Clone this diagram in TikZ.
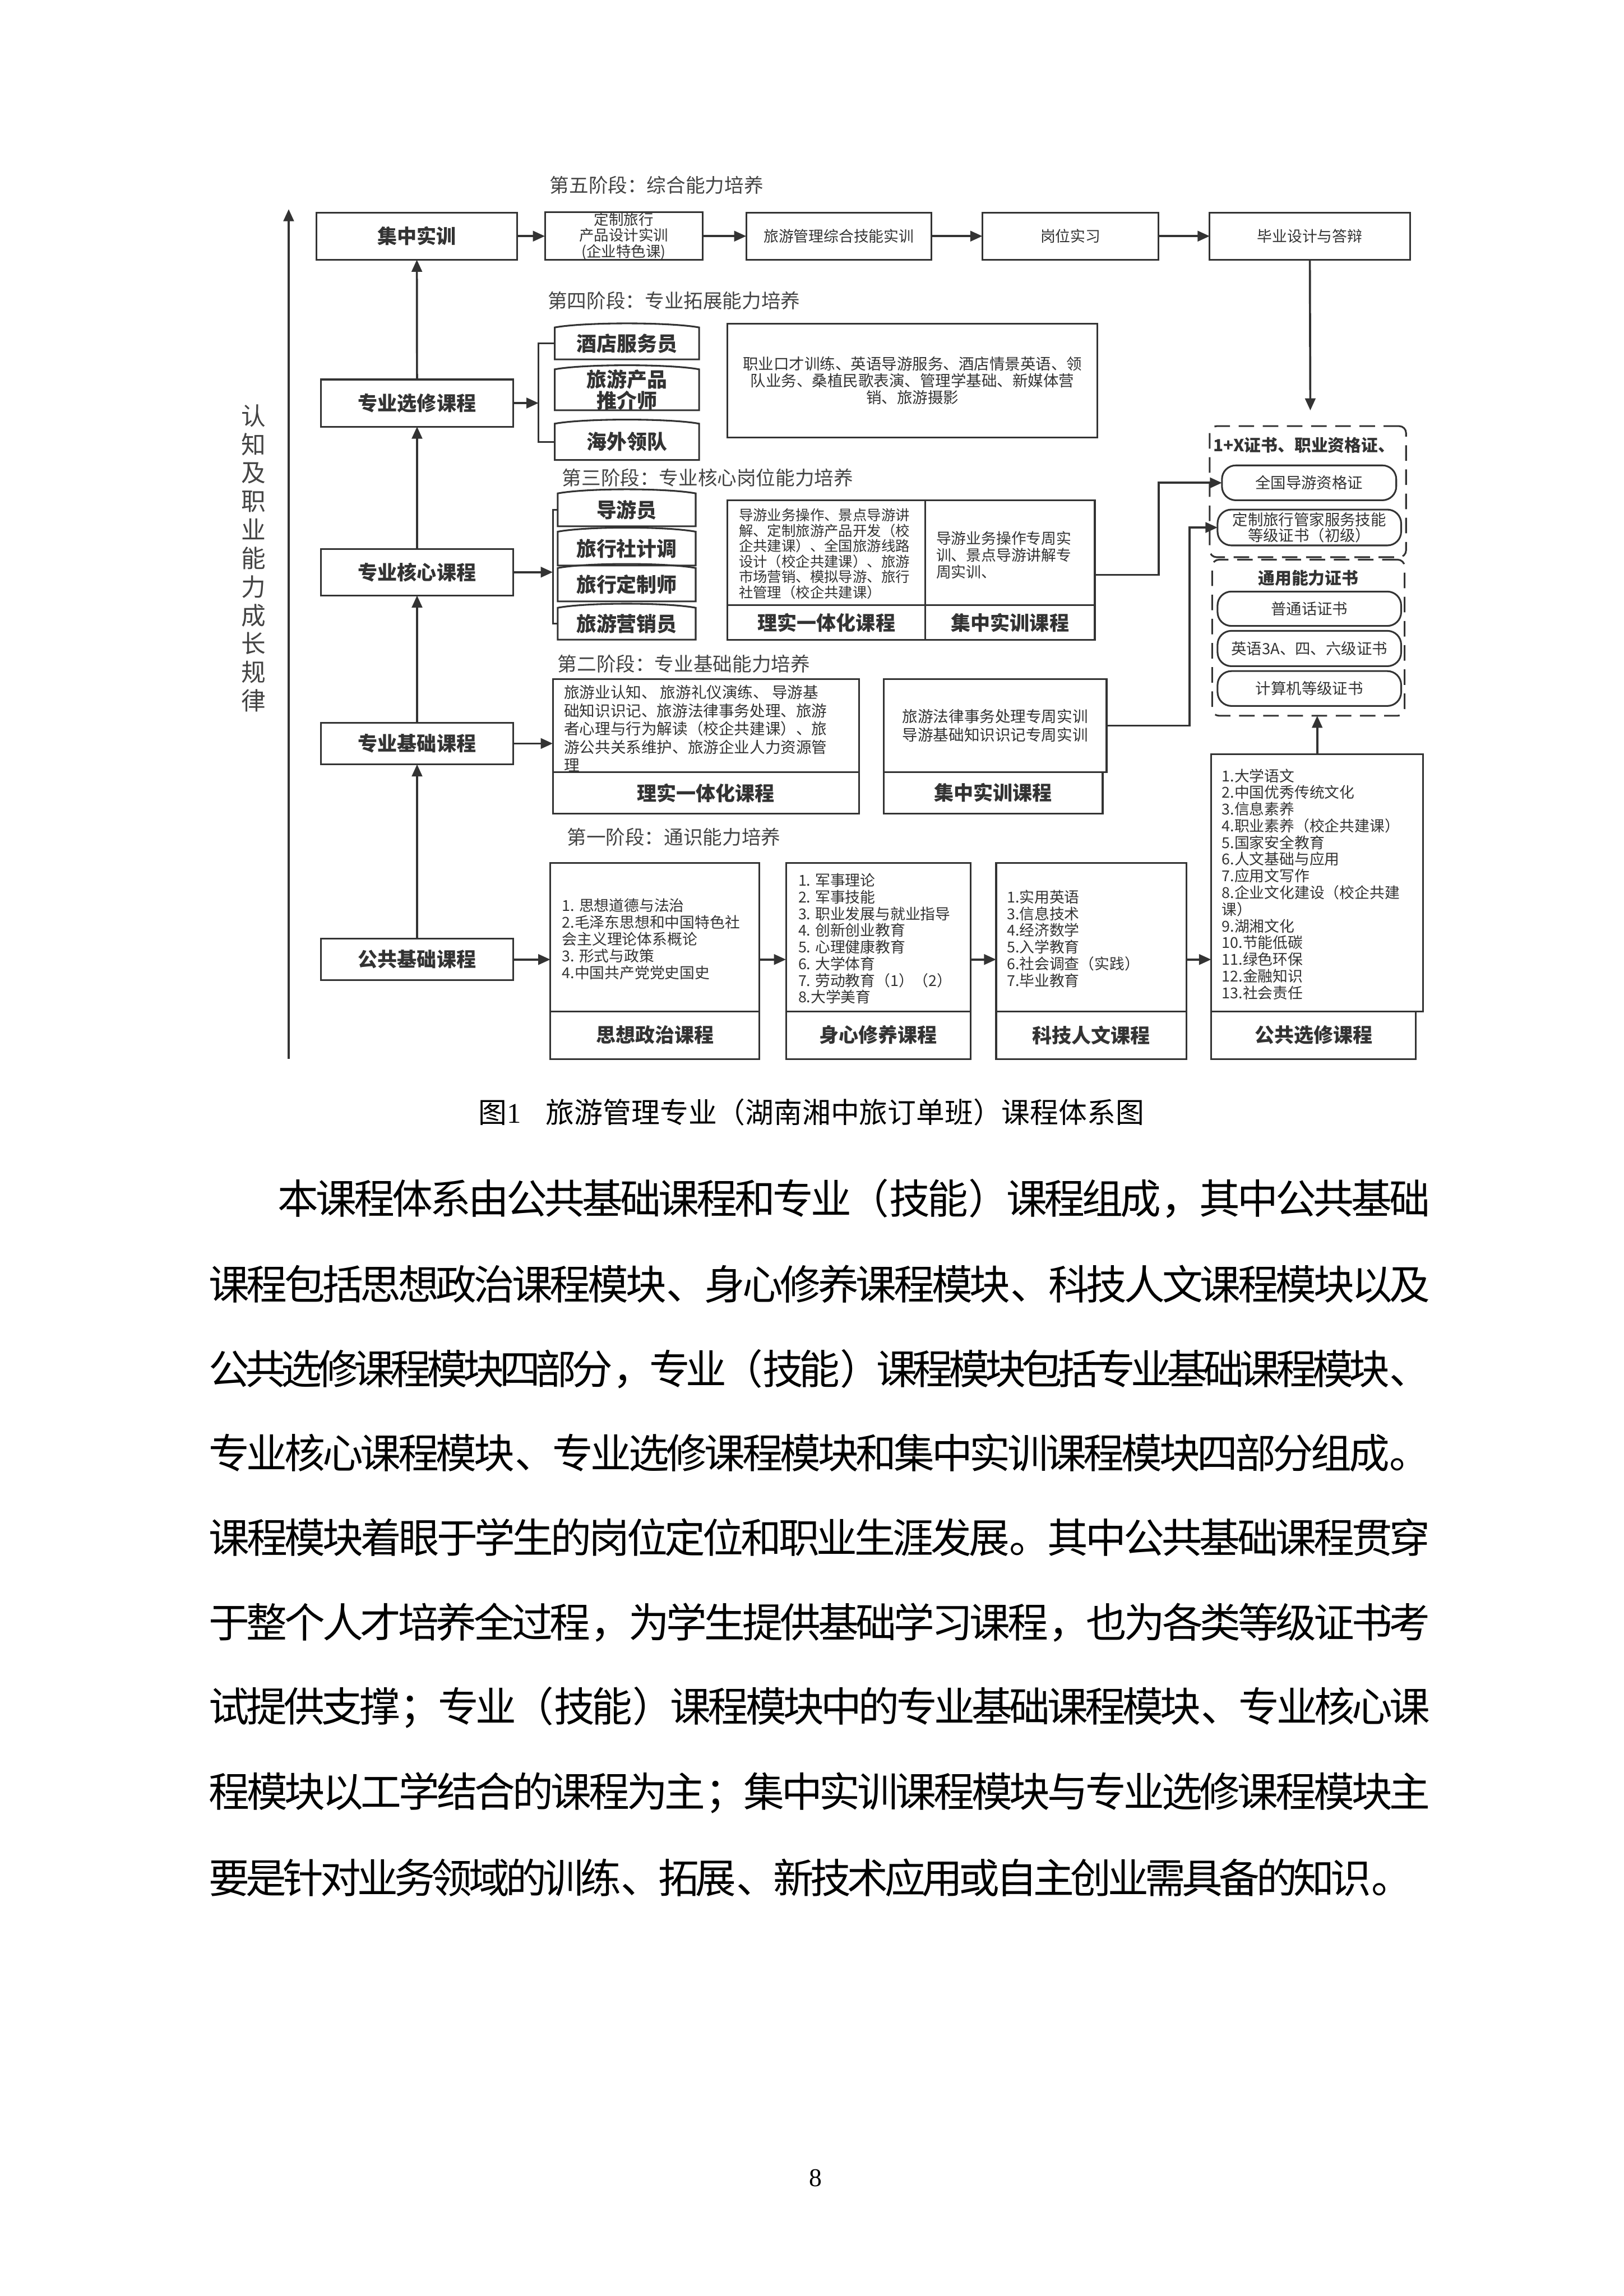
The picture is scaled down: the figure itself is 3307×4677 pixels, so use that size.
\documentclass[tikz,border=0pt]{standalone}
\usepackage{fontspec}
\setmainfont{Noto Sans CJK SC}
\newfontfamily\tnr{Liberation Serif}
\usetikzlibrary{arrows.meta,calc}
\definecolor{ln}{HTML}{333333}
\definecolor{tx}{HTML}{333333}
\definecolor{st}{HTML}{444444}
\newcommand\fz[2]{\fontsize{#1}{#2}\selectfont}
\tikzset{
 every node/.style={inner sep=0pt, outer sep=0pt, text=tx},
 boxline/.style={draw=ln, line width=1pt},
 box/.style={boxline, align=center},
 arr/.style={draw=ln, line width=1.2pt, -{Triangle[length=7pt,width=6pt]}},
 lnk/.style={draw=ln, line width=1pt},
 hd/.style={font=\fz{11.38pt}{11.4pt}\bfseries},
 role/.style={align=center, font=\fz{11.67pt}{11.4pt}\bfseries},
 sm/.style={font=\fz{8.7pt}{9.67pt}},
 txl/.style={anchor=west, align=left},
 stage/.style={anchor=west, font=\fz{11.24pt}{12pt}, text=st},
 cert/.style={boxline, rounded corners=8pt, align=center, font=\fz{8.9pt}{8.9pt}},
 dbox/.style={draw=ln, line width=1pt, dash pattern=on 9pt off 5pt, rounded corners=4pt},
 bodyl/.style={anchor=west, font=\fz{23.6pt}{23.6pt}, text=black, align=justify},
}
\newcommand\bx[7]{%
 \pgfmathsetmacro\bxcx{(#2+#4)/2}%
 \pgfmathsetmacro\bxcy{(#3+#5)/2}%
 \pgfmathsetmacro\bxw{(#4-#2)*0.01}%
 \pgfmathsetmacro\bxh{(#5-#3)*0.01}%
 \node[minimum width=\bxw cm, minimum height=\bxh cm, #6] (#1) at (\bxcx,\bxcy) {#7};}
\newcommand\rolebox[6]{%
 \bx{#1}{#2}{#3}{#4}{#5}{role}{#6}%
 \draw[boxline] (#1.south west) -- (#1.north west) .. controls ($(#1.north west)+(60,-11)$) and ($(#1.north east)+(-60,-11)$) .. (#1.north east) -- (#1.south east) -- cycle;}
\newcommand\bline[5]{%
 \node[bodyl, text width=#4] (#1) at (#3,#2) {\XeTeXlinebreaklocale "zh"\XeTeXlinebreakskip=0pt plus 0.5em minus 0.6em\relax\parfillskip=0pt\relax\tolerance=9999\relax\noindent #5};}
\begin{document}
\begin{tikzpicture}[x=0.01cm,y=-0.01cm]
\fill[white] (0,0) rectangle (3307,4677);
\path[use as bounding box] (0,0) rectangle (3307,4677);

% axis
\coordinate (axb) at (588,2157);
\coordinate (axt) at (588,426);
\draw[arr] (axb) -- (axt);
\node[align=center, font=\fz{14.2pt}{16.5pt}, text=st] (axl) at (517,1137) {认\\知\\及\\职\\业\\能\\力\\成\\长\\规\\律};

% stage labels
\node[stage] (L5) at (1120,377) {第五阶段：综合能力培养};
\node[stage] (L4) at (1116,612) {第四阶段：专业拓展能力培养};
\node[stage] (L3) at (1145,973) {第三阶段：专业核心岗位能力培养};
\node[stage] (L2) at (1136,1352) {第二阶段：专业基础能力培养};
\node[stage] (L1) at (1155,1705) {第一阶段：通识能力培养};

% top row
\bx{t1}{645}{433}{1053}{529}{box,hd}{集中实训}
\bx{t2}{1110}{433}{1431}{529}{box,font=\fz{8.6pt}{9.3pt}}{定制旅行\\产品设计实训\\(企业特色课)}
\bx{t3}{1520}{433}{1897}{529}{box,sm}{旅游管理综合技能实训}
\bx{t4}{2001}{433}{2360}{529}{box,sm}{岗位实习}
\bx{t5}{2464}{433}{2872}{529}{box,sm}{毕业设计与答辩}
\draw[arr] (t1) -- (t2);
\draw[arr] (t2) -- (t3);
\draw[arr] (t3) -- (t4);
\draw[arr] (t4) -- (t5);

% spine
\bx{p4}{654}{773}{1045}{869}{box,hd}{专业选修课程}
\bx{p3}{654}{1118}{1045}{1213}{box,hd}{专业核心课程}
\bx{p2}{654}{1472}{1045}{1557}{box,hd}{专业基础课程}
\bx{p1}{654}{1912}{1045}{1997}{box,hd}{公共基础课程}
\draw[arr] (p1) -- (p2);
\draw[arr] (p2) -- (p3);
\draw[arr] (p3) -- (p4);
\draw[arr] (p4) -- (t1);

% stage 4
\rolebox{r41}{1130}{667}{1424}{732}{酒店服务员}
\rolebox{r42}{1130}{755}{1424}{833}{旅游产品\\推介师}
\rolebox{r43}{1130}{863}{1424}{937}{海外领队}
\draw[lnk] (r41.west) -- ++(-33,0) |- (r43.west);
\draw[arr] (p4.east) -- ++(52,0);
\bx{s4}{1482}{659}{2235}{891}{box,font=\fz{8.93pt}{9.67pt}}{职业口才训练、英语导游服务、酒店情景英语、领\\队业务、桑植民歌表演、管理学基础、新媒体营\\销、旅游摄影}

% stage 3
\rolebox{r31}{1136}{1005}{1417}{1072}{导游员}
\rolebox{r32}{1136}{1083}{1417}{1152}{旅行社计调}
\rolebox{r33}{1136}{1157}{1417}{1225}{旅行定制师}
\rolebox{r34}{1136}{1238}{1417}{1303}{旅游营销员}
\draw[lnk] (r31.west) -- ++(-10,0) |- (r34.west);
\draw[arr] (p3.east) -- ++(81,0);
\bx{s3a}{1482}{1019}{1885}{1233}{boxline}{}
\bx{s3al}{1482}{1233}{1885}{1303}{box,hd}{理实一体化课程}
\bx{s3b}{1885}{1019}{2230}{1233}{boxline}{}
\bx{s3bl}{1885}{1233}{2230}{1303}{box,hd}{集中实训课程}
\node[txl, font=\fz{8.25pt}{8.93pt}] (s3at) at (1505,1128) {导游业务操作、景点导游讲\\解、定制旅游产品开发（校\\企共建课）、全国旅游线路\\设计（校企共建课）、旅游\\市场营销、模拟导游、旅行\\社管理（校企共建课）};
\node[txl, sm] (s3bt) at (1907,1131) {导游业务操作专周实\\训、景点导游讲解专\\周实训、};

% stage 2
\bx{s2a}{1126}{1383}{1750}{1573}{boxline}{}
\bx{s2al}{1126}{1573}{1750}{1657}{box,hd}{理实一体化课程}
\bx{s2b}{1800}{1383}{2254}{1573}{box,font=\fz{8.96pt}{10.5pt}}{旅游法律事务处理专周实训\\导游基础知识识记专周实训}
\bx{s2bl}{1800}{1573}{2246}{1657}{box,hd}{集中实训课程}
\node[txl, font=\fz{8.96pt}{10.53pt}] (s2at) at (1149,1484) {旅游业认知、\ 旅游礼仪演练、\ 导游基\\础知识识记、旅游法律事务处理、旅游\\者心理与行为解读（校企共建课）、旅\\游公共关系维护、旅游企业人力资源管\\理};
\draw[arr] (p2.east) -- (s2a.west |- p2.east);

% certificates
\bx{d1}{2464}{868}{2864}{1135}{dbox}{}
\bx{d2}{2469}{1140}{2861}{1458}{dbox}{}
\node[font=\fz{9.67pt}{10pt}\bfseries] (d1l) at (2656,907) {1+X证书、职业资格证、};
\node[font=\fz{9.67pt}{10pt}\bfseries] (d2l) at (2665,1178) {通用能力证书};
\bx{c1}{2489}{948}{2844}{1019}{cert}{全国导游资格证}
\bx{c2}{2480}{1038}{2854}{1111}{cert}{定制旅行管家服务技能\\等级证书（初级）}
\bx{c3}{2480}{1205}{2854}{1275}{cert}{普通话证书}
\bx{c4}{2480}{1285}{2854}{1357}{cert}{英语3A、四、六级证书}
\bx{c5}{2480}{1367}{2854}{1438}{cert}{计算机等级证书}
\coordinate (d1in) at (2669,836);
\draw[arr] (t5.south) -- (d1in);
\draw[arr] ([yshift=-0.45cm]s3b.east) -- ++(130,0) |- (c1.west);
\draw[arr] (s2b.east) -- ++(169,0) |- (c2.west);

% stage 1
\bx{g1}{1121}{1758}{1547}{2060}{boxline}{}
\bx{g1l}{1121}{2060}{1547}{2157}{box,hd}{思想政治课程}
\bx{g2}{1601}{1758}{1977}{2060}{boxline}{}
\bx{g2l}{1601}{2060}{1977}{2157}{box,hd}{身心修养课程}
\bx{g3}{2029}{1758}{2417}{2060}{boxline}{}
\bx{g3l}{2029}{2060}{2417}{2157}{box,hd}{科技人文课程}
\bx{g4}{2467}{1536}{2899}{2060}{boxline}{}
\bx{g4l}{2467}{2060}{2884}{2157}{box,hd}{公共选修课程}
\node[txl, sm] (g1t) at (1145,1913) {1. 思想道德与法治\\2.毛泽东思想和中国特色社\\会主义理论体系概论\\3. 形式与政策\\4.中国共产党党史国史};
\node[txl, sm] (g2t) at (1626,1912) {1. 军事理论\\2. 军事技能\\3. 职业发展与就业指导\\4. 创新创业教育\\5. 心理健康教育\\6. 大学体育\\7. 劳动教育（1）（2）\\8.大学美育};
\node[txl, sm] (g3t) at (2051,1912) {1.实用英语\\3.信息技术\\4.经济数学\\5.入学教育\\6.社会调查（实践）\\7.毕业教育};
\node[txl, sm] (g4t) at (2489,1801) {1.大学语文\\2.中国优秀传统文化\\3.信息素养\\4.职业素养（校企共建课）\\5.国家安全教育\\6.人文基础与应用\\7.应用文写作\\8.企业文化建设（校企共建\\课）\\9.湖湘文化\\10.节能低碳\\11.绿色环保\\12.金融知识\\13.社会责任};
\draw[arr] (p1.east) -- (g1.west |- p1.east);
\draw[arr] (g1.east |- p1.east) -- (g2.west |- p1.east);
\draw[arr] (g2.east |- p1.east) -- (g3.west |- p1.east);
\draw[arr] (g3.east |- p1.east) -- (g4.west |- p1.east);
\draw[arr] (g4.north) -- (g4.north |- d2.south);

% caption
\node[anchor=west, font=\fz{16.5pt}{16.5pt}, text=black] (cap) at (975,2266) {图{\tnr 1}\hspace{0.5cm}旅游管理专业（湖南湘中旅订单班）课程体系图};

% body text
\bline{b1}{2442}{566}{23.46cm}{本课程体系由公共基础课程和专业（技能）课程组成，其中公共基础}
\bline{b2}{2616}{425}{24.87cm}{课程包括思想政治课程模块、身心修养课程模块、科技人文课程模块以及}
\bline{b3}{2789}{425}{24.87cm}{公共选修课程模块四部分，专业（技能）课程模块包括专业基础课程模块、}
\bline{b4}{2960}{425}{24.87cm}{专业核心课程模块、专业选修课程模块和集中实训课程模块四部分组成。}
\bline{b5}{3132}{425}{24.87cm}{课程模块着眼于学生的岗位定位和职业生涯发展。其中公共基础课程贯穿}
\bline{b6}{3305}{425}{24.87cm}{于整个人才培养全过程，为学生提供基础学习课程，也为各类等级证书考}
\bline{b7}{3478}{425}{24.87cm}{试提供支撑；专业（技能）课程模块中的专业基础课程模块、专业核心课}
\bline{b8}{3652}{425}{24.87cm}{程模块以工学结合的课程为主；集中实训课程模块与专业选修课程模块主}
\bline{b9}{3825}{425}{24.5cm}{要是针对业务领域的训练、拓展、新技术应用或自主创业需具备的知识。}

% page number
\node[font=\fz{14.8pt}{15pt}\tnr, text=black] (pg) at (1661,4437) {8};
\end{tikzpicture}
\end{document}
